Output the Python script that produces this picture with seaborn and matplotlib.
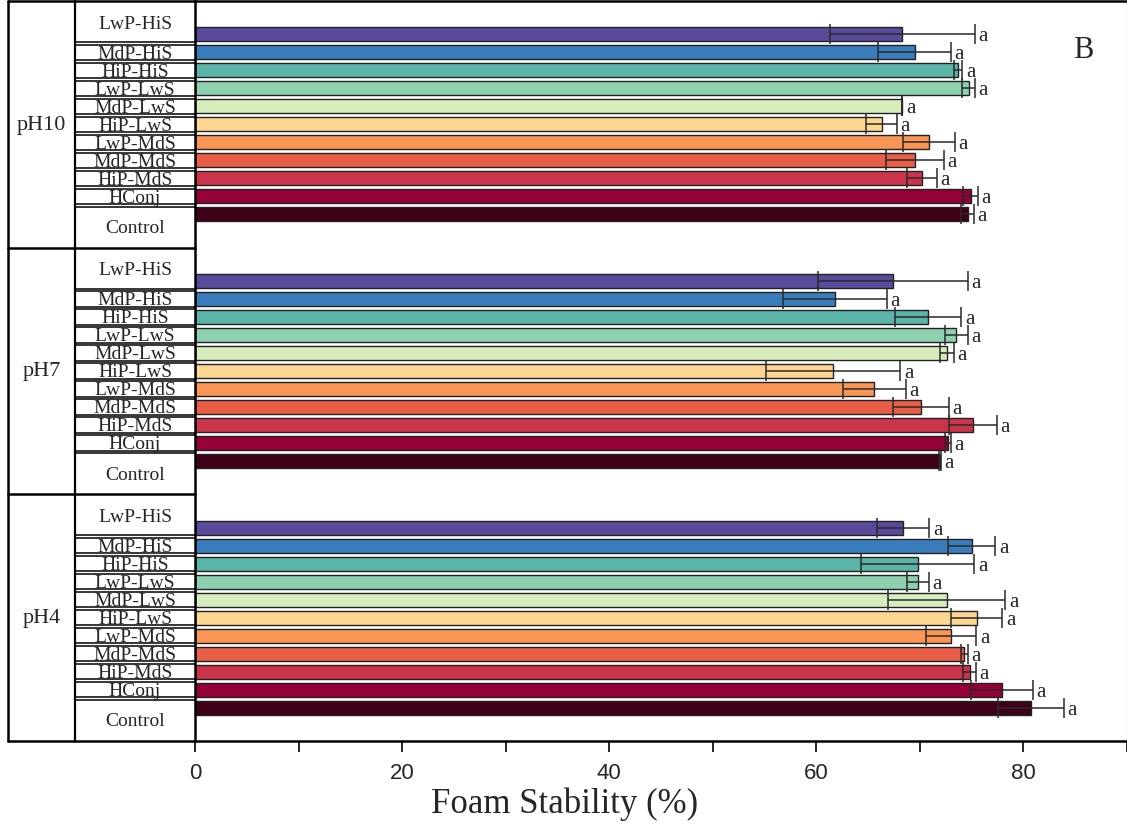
import numpy as np
import pandas as pd
import matplotlib
matplotlib.use("Agg")
import matplotlib.pyplot as plt
import seaborn as sns
from matplotlib.ticker import MultipleLocator
from matplotlib.transforms import blended_transform_factory

# ---------------- data ----------------
groups = ["pH10", "pH7", "pH4"]
samples = ["LwP-HiS", "MdP-HiS", "HiP-HiS", "LwP-LwS", "MdP-LwS", "HiP-LwS",
           "LwP-MdS", "MdP-MdS", "HiP-MdS", "HConj", "Control"]
ph10_mean = [68.3, 69.5, 73.7, 74.7, 68.3, 66.3, 70.9, 69.5, 70.2, 74.9, 74.6]
ph10_err = [7.0, 3.5, 0.4, 0.6, 0.0, 1.5, 2.5, 2.8, 1.45, 0.7, 0.6]
ph7_mean = [67.4, 61.8, 70.8, 73.5, 72.6, 61.6, 65.6, 70.1, 75.1, 72.7, 71.9]
ph7_err = [7.2, 5.0, 3.2, 1.1, 0.65, 6.5, 3.05, 2.7, 2.3, 0.3, 0.1]
ph4_mean = [68.4, 75.0, 69.8, 69.8, 72.6, 75.5, 73.0, 74.3, 74.8, 77.9, 80.7]
ph4_err = [2.5, 2.3, 5.45, 1.05, 5.65, 2.45, 2.45, 0.35, 0.6, 3.0, 3.2]
sig_letters = ["a"] * 11
colors = ["#5b4a9b", "#3a7dbd", "#5ab4a8", "#8fd0b1", "#d7ecbd", "#fdd692",
          "#f99655", "#e95e47", "#cc344b", "#960038", "#3f0019"]

means = [ph10_mean, ph7_mean, ph4_mean]
errs = [ph10_err, ph7_err, ph4_err]

# ---------------- layout ----------------
G = 13.7      # slots per group
OFF = 1.85    # padding inside a group before first bar
n = len(samples)

rows = []
for g, grp in enumerate(groups):
    for i, s in enumerate(samples):
        rows.append(dict(group=grp, sample=s, value=means[g][i], err=errs[g][i],
                         letter=sig_letters[i], pos=g * G + OFF + i))
df = pd.DataFrame(rows)

serif = ["Liberation Serif", "DejaVu Serif"]
sansf = ["Liberation Sans Narrow", "Liberation Sans", "DejaVu Sans"]

sns.set_style("white")
plt.rcParams["font.family"] = serif

fig = plt.figure(figsize=(11.27, 8.28), dpi=100)
ax = fig.add_axes([195 / 1127, 1 - 742 / 828, 932 / 1127, 740 / 828])

sns.barplot(data=df, x="value", y="pos", hue="sample",
            palette=dict(zip(samples, colors)), orient="h", native_scale=True,
            dodge=False, width=0.78, errorbar=None, legend=False, saturation=1,
            edgecolor="#222222", linewidth=1.0, ax=ax)

ax.errorbar(df["value"], df["pos"], xerr=df["err"], fmt="none",
            ecolor="#2a2a2a", elinewidth=1.1, capsize=7, capthick=1.1, zorder=5)

for _, r in df.iterrows():
    ax.text(r["value"] + r["err"] + 0.35, r["pos"] + 0.08, r["letter"],
            ha="left", va="center", fontsize=15, family=serif)

ax.set_xlim(0, 90)
ax.set_ylim(3 * G, 0)
ax.set_xticks([0, 20, 40, 60, 80])
ax.xaxis.set_minor_locator(MultipleLocator(10))
ax.set_yticks([])
ax.set_ylabel("")
ax.tick_params(axis="x", which="both", direction="out", length=8, width=1.2,
               bottom=True, color="black")
ax.tick_params(axis="x", which="major", labelsize=16, pad=7)
for lab in ax.get_xticklabels():
    lab.set_family(sansf)

ax.set_xlabel("Foam Stability (%)", fontsize=25, family=serif)
ax.xaxis.set_label_coords((565 - 195) / 932, -0.062)

for side in ["top", "bottom", "left"]:
    ax.spines[side].set_visible(True)
    ax.spines[side].set_color("black")
    ax.spines[side].set_linewidth(1.8)
ax.spines["right"].set_visible(True)
ax.spines["right"].set_color("#cccccc")
ax.spines["right"].set_linewidth(1.0)

ax.text((1083 - 195) / 932, 0.935, "B", transform=ax.transAxes,
        ha="center", va="center", fontsize=22, family=serif)

# ---------------- left table ----------------
tr = blended_transform_factory(ax.transAxes, ax.transData)
x0 = (8 - 195) / 932
x1 = (75 - 195) / 932
xc_group = (41.5 - 195) / 932
xc_sample = (135 - 195) / 932

lkw = dict(transform=tr, clip_on=False, color="black")
ax.plot([x0, 0], [0, 0], lw=1.8, **lkw)
ax.plot([x0, 0], [3 * G, 3 * G], lw=1.8, **lkw)
ax.plot([x0, x0], [0, 3 * G], lw=1.8, **lkw)
ax.plot([x1, x1], [0, 3 * G], lw=1.6, **lkw)
for g in range(1, 3):
    ax.plot([x0, 0], [g * G, g * G], lw=1.8, **lkw)

for g, grp in enumerate(groups):
    base = g * G + OFF
    for i in range(n - 1):
        yb = base + i + 0.5
        for dy in (-0.07, 0.07):
            ax.plot([x1, 0], [yb + dy, yb + dy], lw=1.1, **lkw)
    for i, s in enumerate(samples):
        top = g * G if i == 0 else base + i - 0.5
        bot = (g + 1) * G if i == n - 1 else base + i + 0.5
        ax.text(xc_sample, (top + bot) / 2 + 0.05, s, transform=tr, ha="center",
                va="center", fontsize=14, family=serif, clip_on=False)
    ax.text(xc_group, g * G + G / 2, grp, transform=tr, ha="center", va="center",
            fontsize=16, family=serif, clip_on=False)

fig.savefig("out.png", dpi=100)
